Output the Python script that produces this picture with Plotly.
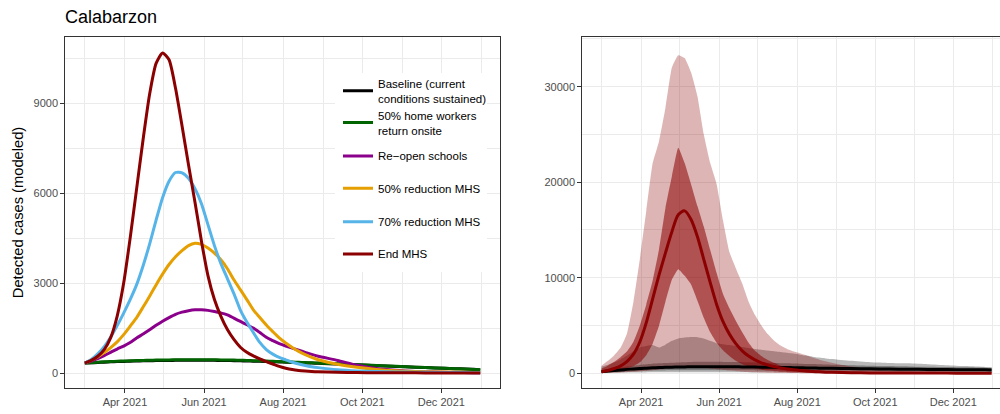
import plotly.graph_objects as go

FONT = "Liberation Sans, Arial, Helvetica, sans-serif"

# ---------------- data ----------------
dates = [
    "2021-03-01", "2021-03-06", "2021-03-11", "2021-03-16", "2021-03-21", "2021-03-26", "2021-03-31",
    "2021-04-05", "2021-04-10", "2021-04-15", "2021-04-20", "2021-04-25", "2021-04-30",
    "2021-05-05", "2021-05-10", "2021-05-15", "2021-05-20", "2021-05-25", "2021-05-30",
    "2021-06-04", "2021-06-09", "2021-06-14", "2021-06-19", "2021-06-24", "2021-06-29",
    "2021-07-04", "2021-07-09", "2021-07-14", "2021-07-19", "2021-07-24", "2021-07-29",
    "2021-08-03", "2021-08-08", "2021-08-13", "2021-08-18", "2021-08-23", "2021-08-28",
    "2021-09-12", "2021-09-27", "2021-10-12", "2021-10-27", "2021-11-11", "2021-11-26",
    "2021-12-11", "2021-12-26", "2021-12-31",
]

# left panel: modeled detected cases per scenario
baseline = [330, 340, 352, 362, 372, 380, 387,
            394, 400, 405, 410, 414, 417,
            420, 422, 424, 425, 425, 425,
            424, 422, 419, 416, 412, 407,
            402, 396, 390, 383, 376, 369,
            362, 354, 346, 338, 330, 322,
            298, 272, 246, 220, 194, 170, 146, 124, 105]
home_workers = [330, 345, 360, 372, 383, 393, 400,
                408, 414, 420, 425, 430, 434,
                437, 440, 442, 443, 444, 444,
                443, 441, 438, 434, 430, 425,
                419, 413, 406, 398, 390, 382,
                374, 366, 357, 348, 339, 330,
                305, 278, 250, 222, 195, 170, 145, 120, 110]
reopen_schools = [330, 400, 480, 580, 690, 800, 900,
                  1020, 1170, 1300, 1440, 1590, 1730,
                  1850, 1960, 2030, 2080, 2110, 2110,
                  2090, 2050, 2000, 1940, 1830, 1720,
                  1610, 1500, 1350, 1190, 1080, 980,
                  900, 830, 760, 690, 620, 560,
                  420, 260, 150, 90, 50, 30, 18, 12, 10]
reduction_50 = [330, 430, 540, 680, 850, 1040, 1280,
                1560, 1850, 2200, 2560, 2940, 3300,
                3620, 3880, 4080, 4250, 4330, 4290,
                4170, 4000, 3780, 3480, 3110, 2780,
                2450, 2110, 1850, 1600, 1380, 1170,
                1000, 850, 720, 610, 520, 443,
                290, 190, 120, 75, 50, 35, 25, 20, 18]
reduction_70 = [330, 450, 640, 880, 1200, 1580, 2000,
                2450, 2950, 3580, 4300, 5100, 5850,
                6400, 6690, 6680, 6500, 6150, 5650,
                4950, 4250, 3650, 3150, 2650, 2100,
                1700, 1350, 1020, 780, 630, 520,
                440, 360, 300, 250, 210, 180,
                110, 70, 50, 35, 25, 20, 15, 12, 10]
end_mhs = [330, 420, 560, 780, 1180, 1900, 3000,
           4500, 6150, 7800, 9300, 10330, 10680,
           10450, 9500, 8250, 6950, 5700, 4400,
           3250, 2450, 1890, 1450, 1120, 860,
           690, 570, 470, 380, 300, 220,
           160, 115, 85, 65, 50, 40,
           22, 14, 9, 6, 5, 4, 3, 3, 3]

scenario_names = [
    "Baseline (current<br>conditions sustained)",
    "50% home workers<br>return onsite",
    "Re\u2212open schools",
    "50% reduction MHS",
    "70% reduction MHS",
    "End MHS",
]
scenario_values = [baseline, home_workers, reopen_schools, reduction_50, reduction_70, end_mhs]

# right panel: baseline and End MHS with uncertainty intervals
base_med = [170, 230, 290, 350, 410, 460, 510,
            540, 570, 600, 620, 640, 660,
            670, 680, 690, 690, 690, 690,
            685, 680, 675, 670, 660, 650,
            640, 630, 620, 610, 600, 590,
            575, 560, 550, 540, 525, 515,
            490, 465, 445, 425, 405, 390, 375, 360, 355]
base_q25 = [80, 110, 140, 170, 200, 225, 250,
            265, 280, 290, 300, 305, 310,
            315, 318, 320, 320, 320, 320,
            318, 315, 312, 310, 306, 302,
            298, 294, 290, 286, 282, 278,
            274, 270, 266, 262, 258, 254,
            242, 230, 220, 210, 200, 192, 184, 176, 172]
base_q75 = [300, 400, 500, 600, 700, 800, 880,
            950, 1000, 1040, 1080, 1110, 1140,
            1160, 1180, 1200, 1200, 1200, 1200,
            1190, 1180, 1170, 1160, 1150, 1140,
            1120, 1100, 1080, 1060, 1040, 1020,
            1000, 980, 960, 940, 920, 900,
            850, 800, 760, 720, 680, 650, 620, 590, 580]
base_q025 = [30, 40, 50, 60, 70, 80, 90,
             95, 100, 100, 100, 100, 100,
             100, 100, 100, 100, 100, 100,
             100, 100, 98, 96, 94, 92,
             90, 88, 86, 84, 82, 80,
             78, 76, 74, 72, 70, 68,
             64, 60, 56, 52, 48, 45, 42, 40, 38]
base_q975 = [700, 900, 1150, 1450, 1850, 2300, 2700,
             2850, 2950, 2700, 3000, 3400, 3650,
             3750, 3800, 3780, 3650, 3400, 3150,
             3050, 2950, 2850, 2750, 2650, 2550,
             2470, 2380, 2300, 2220, 2140, 2060,
             1950, 1850, 1740, 1640, 1560, 1500,
             1300, 1150, 1080, 1040, 950, 850, 750, 660, 630]

end_med = [170, 300, 500, 780, 1250, 2000, 3300,
           5300, 7800, 10300, 12600, 14800, 16600,
           17000, 16100, 14300, 11900, 9500, 7200,
           5400, 4100, 3100, 2350, 1800, 1400,
           1100, 870, 700, 560, 450, 370,
           300, 240, 190, 150, 120, 100,
           60, 40, 30, 25, 20, 18, 16, 15, 15]
end_q25 = [100, 150, 230, 350, 520, 750, 1150,
           1900, 3100, 5000, 7500, 9800, 10900,
           10200, 9300, 7600, 5800, 4300, 3200,
           2400, 1800, 1300, 950, 700, 500,
           380, 280, 210, 160, 120, 90,
           70, 55, 45, 35, 28, 22,
           12, 8, 6, 5, 4, 4, 3, 3, 3]
end_q75 = [500, 800, 1200, 1700, 2300, 3300, 5000,
           7200, 9700, 13000, 17300, 20600, 23600,
           22000, 19800, 17500, 15330, 12900, 10500,
           8300, 6800, 5500, 4300, 3200, 2350,
           1800, 1400, 1100, 800, 650, 550,
           470, 400, 340, 290, 250, 220,
           150, 110, 90, 75, 65, 60, 55, 50, 50]
end_q025 = [20, 40, 60, 90, 120, 160, 200,
            260, 330, 400, 480, 560, 640,
            700, 700, 650, 580, 500, 420,
            350, 280, 220, 170, 130, 100,
            75, 55, 42, 32, 25, 20,
            15, 12, 10, 8, 6, 5,
            3, 2, 1, 1, 1, 1, 1, 1, 1]
end_q975 = [800, 1300, 1900, 2700, 4200, 7500, 12000,
            17000, 22000, 24300, 27800, 32000, 33300,
            33000, 31500, 29000, 25000, 22000, 19800,
            16000, 12700, 11000, 9400, 7500, 6100,
            5000, 4100, 3400, 2900, 2550, 2300,
            2100, 1900, 1650, 1450, 1250, 1100,
            700, 450, 300, 220, 170, 140, 120, 100, 100]

left_yticks = [0, 3000, 6000, 9000]
right_yticks = [0, 10000, 20000, 30000]

# ---------------- styles ----------------
colors = ["#000000", "#006400", "#8B008B", "#E69F00", "#56B4E9", "#8B0000"]
legend_ids = ["legend", "legend2", "legend3", "legend4", "legend5", "legend6"]
legend_y = [0.847, 0.756, 0.661, 0.569, 0.474, 0.382]

fig = go.Figure()

for name, vals, col, lg in zip(scenario_names, scenario_values, colors, legend_ids):
    fig.add_trace(go.Scatter(
        x=dates, y=vals, mode="lines", name=name, legend=lg,
        line=dict(color=col, width=3, shape="spline", smoothing=0.6),
        xaxis="x", yaxis="y", hoverinfo="skip",
    ))


def band(lo, hi, fill):
    fig.add_trace(go.Scatter(x=dates, y=lo, mode="lines", line=dict(width=0, shape="spline", smoothing=0.4),
                             showlegend=False, xaxis="x2", yaxis="y2", hoverinfo="skip"))
    fig.add_trace(go.Scatter(x=dates, y=hi, mode="lines", line=dict(width=0, shape="spline", smoothing=0.4),
                             fill="tonexty", fillcolor=fill, showlegend=False,
                             xaxis="x2", yaxis="y2", hoverinfo="skip"))


band(base_q025, base_q975, "rgba(0,0,0,0.28)")
band(base_q25, base_q75, "rgba(0,0,0,0.32)")
band(end_q025, end_q975, "rgba(139,0,0,0.29)")
band(end_q25, end_q75, "rgba(139,0,0,0.55)")

fig.add_trace(go.Scatter(x=dates, y=base_med, mode="lines", showlegend=False,
                         line=dict(color="#000000", width=3, shape="spline", smoothing=0.6),
                         xaxis="x2", yaxis="y2", hoverinfo="skip"))
fig.add_trace(go.Scatter(x=dates, y=end_med, mode="lines", showlegend=False,
                         line=dict(color="#8B0000", width=3, shape="spline", smoothing=0.8),
                         xaxis="x2", yaxis="y2", hoverinfo="skip"))

grid_c = "#EBEBEB"
frame_c = "#333333"
tickfont = dict(size=11, color="#4D4D4D", family=FONT)

def xaxis_style(domain, rng, anchor, mirror):
    return dict(
        domain=domain, range=rng, anchor=anchor, type="date",
        tick0="2021-04-01", dtick="M2", tickformat="%b %Y",
        showline=True, linecolor=frame_c, linewidth=1.1, mirror=mirror,
        ticks="outside", ticklen=3.7, tickwidth=1.1, tickcolor=frame_c,
        showgrid=True, gridcolor=grid_c, gridwidth=1.1, zeroline=False,
        tickfont=tickfont,
        minor=dict(tick0="2021-01-01", dtick="M1", showgrid=True, gridcolor=grid_c, gridwidth=0.55, ticks=""),
    )

def yaxis_style(domain, rng, anchor, ticks, mirror):
    return dict(
        domain=domain, range=rng, anchor=anchor,
        tickvals=ticks, tickformat="d",
        showline=True, linecolor=frame_c, linewidth=1.1, mirror=mirror,
        ticks="outside", ticklen=3.7, tickwidth=1.1, tickcolor=frame_c,
        showgrid=True, gridcolor=grid_c, gridwidth=1.1, zeroline=False,
        tickfont=tickfont,
        minor=dict(tick0=0, dtick=(ticks[1] - ticks[0]) / 2, showgrid=True, gridcolor=grid_c,
                   gridwidth=0.55, ticks=""),
    )

xa = xaxis_style([0, 0.46524], ["2021-02-13 18:00", "2022-01-15 06:00"], "y", True)
xa2 = xaxis_style([0.55294, 1.0], ["2021-02-13 18:00", "2022-01-06 13:00"], "y2", True)
ya = yaxis_style([0, 1], [-500, 11210], "x", left_yticks, True)
ya2 = yaxis_style([0, 1], [-1540, 35200], "x2", right_yticks, False)
ya["title"] = dict(text="Detected cases (modeled)", font=dict(size=14.7, color="black", family=FONT), standoff=6)

layout = dict(
    width=1000, height=414,
    margin=dict(l=65, r=0, t=37, b=26),
    paper_bgcolor="white", plot_bgcolor="white",
    font=dict(family=FONT, color="black"),
    title=dict(text="Calabarzon", x=0.065, xref="container", xanchor="left",
               y=1 - 17 / 414, yref="container", yanchor="middle",
               font=dict(size=18, color="black", family=FONT)),
    xaxis=xa, xaxis2=xa2, yaxis=ya, yaxis2=ya2,
    shapes=[dict(type="rect", xref="paper", yref="paper",
                 x0=(335 - 65) / 935, x1=(487 - 65) / 935,
                 y0=(388 - 272) / 351, y1=(388 - 73) / 351,
                 fillcolor="white", line=dict(width=0), layer="above")],
)
for lg, yy in zip(legend_ids, legend_y):
    layout[lg] = dict(x=(338 - 65) / 935, y=yy, xanchor="left", yanchor="middle",
                      bgcolor="rgba(0,0,0,0)", borderwidth=0,
                      font=dict(size=11.5, color="black", family=FONT))

fig.update_layout(**layout)
fig.write_html("out.html")
